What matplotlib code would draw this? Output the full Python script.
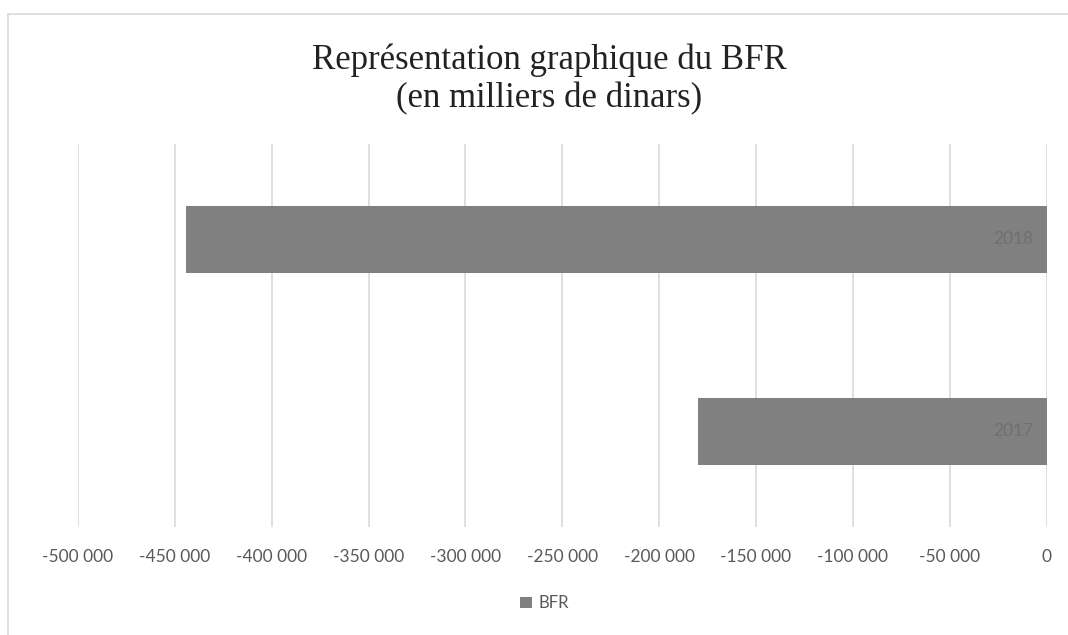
import matplotlib.pyplot as plt
from matplotlib.patches import Rectangle
from matplotlib.ticker import FuncFormatter, MultipleLocator

years = ['2017', '2018']
bfr = [-180000, -444000]

fig = plt.figure(figsize=(10.68, 6.35), dpi=100)
ax = fig.add_axes([0.073, 0.170, 0.907, 0.604])

# chart frame
fig.patches.append(Rectangle((8 / 1068, -0.01), 1.1, 1 - 14 / 635 + 0.01,
                             transform=fig.transFigure, fill=False,
                             edgecolor='#d9d9d9', linewidth=1.2))

bars = ax.barh(range(len(years)), bfr, height=0.35, color='#808080', label='BFR', zorder=2)
for i, (y, v) in enumerate(zip(years, bfr)):
    ax.text(-7000, i, y, ha='right', va='center', fontsize=12.5,
            color='#707070', family='Lato', zorder=3)

ax.set_xlim(-500000, 0)
ax.set_ylim(-0.5, 1.5)
ax.xaxis.set_major_locator(MultipleLocator(50000))
ax.xaxis.set_major_formatter(FuncFormatter(
    lambda v, p: '0' if v == 0 else f'{int(v):,}'.replace(',', ' ')))
ax.grid(axis='x', color='#d9d9d9', linewidth=1.2, zorder=0)
ax.set_yticks([])
ax.tick_params(axis='x', length=0, pad=16, labelsize=12.5, labelcolor='#595959')
for lbl in ax.get_xticklabels():
    lbl.set_family('Lato')
for s in ax.spines.values():
    s.set_visible(False)

fig.text(0.514, 0.875, 'Représentation graphique du BFR\n(en milliers de dinars)',
         ha='center', va='center', fontsize=25, family='Liberation Serif',
         color='#222222', linespacing=1.2)

leg = fig.legend(handles=[bars], labels=['BFR'], loc='center', bbox_to_anchor=(0.51, 0.05),
                 frameon=False, handlelength=0.7, handleheight=0.7, handletextpad=0.4,
                 prop={'family': 'Lato', 'size': 12})
for t in leg.get_texts():
    t.set_color('#595959')

fig.savefig('out.png', dpi=100)
